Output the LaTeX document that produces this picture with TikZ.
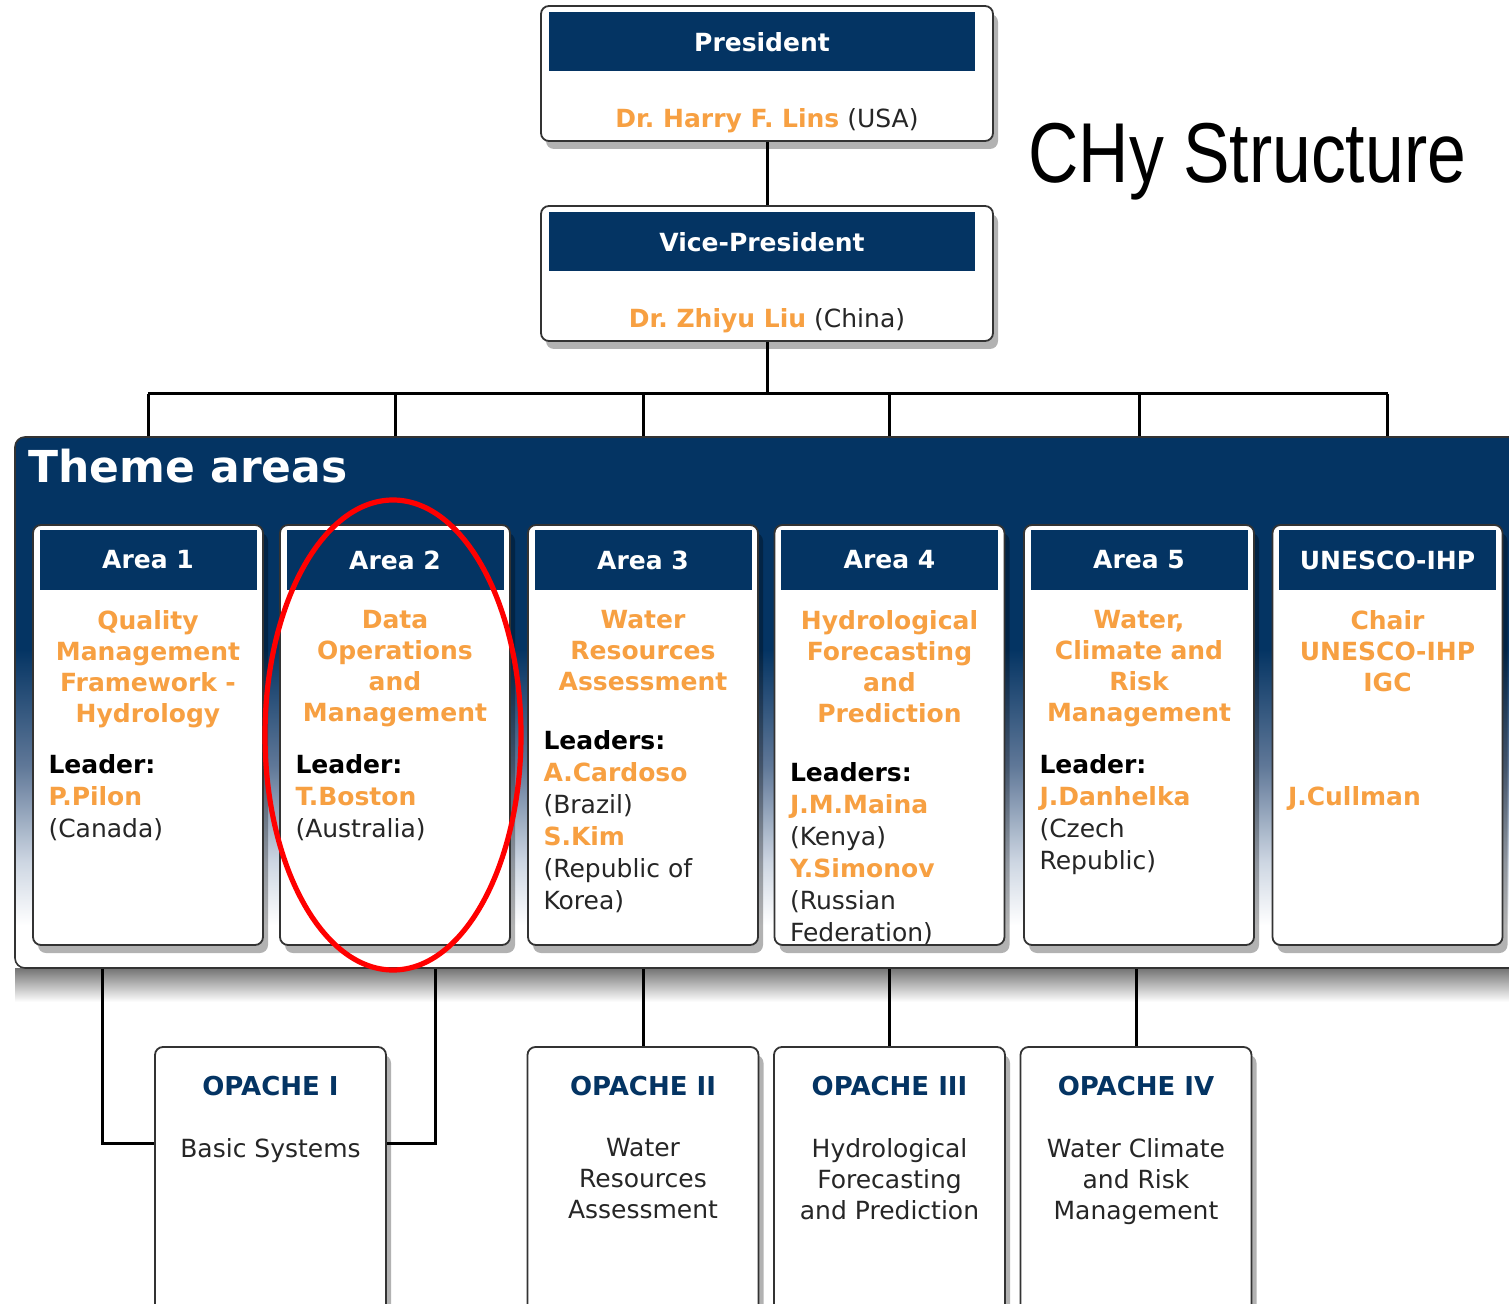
\documentclass[tikz,border=0pt]{standalone}
\usepackage{fontspec}
\setmainfont{DejaVu Sans}
\newfontfamily\narrowfont[FakeStretch=0.82]{Liberation Sans}
\usetikzlibrary{positioning,shadows}
\frenchspacing
\definecolor{chynavy}{RGB}{4,52,99}
\definecolor{chyorange}{RGB}{247,160,66}
\definecolor{chyfade}{RGB}{96,120,152}
\definecolor{chylight}{RGB}{205,214,226}
\pgfdeclareverticalshading{themefade}{100bp}{color(0bp)=(white); color(29bp)=(white); color(35bp)=(chylight); color(44bp)=(chyfade); color(55bp)=(chynavy); color(100bp)=(chynavy)}
\newcommand{\boxfont}{\fontsize{12.5}{15.5}\selectfont}
\newcommand{\leadfont}{\fontsize{12.5}{16}\selectfont}
\newcommand{\chyname}[1]{{\bfseries\color{chyorange}#1}}
\newcommand{\chyrole}[1]{{\bfseries\color{black}#1}}

\begin{document}
\begin{tikzpicture}[x=0.5pt, y=-0.5pt,
    box/.style={draw=black!80, line width=0.9pt, rounded corners=4pt, fill=white, inner sep=0pt,
      drop shadow={shadow xshift=2.5pt, shadow yshift=-4pt, opacity=0.3, fill=black}},
    topbox/.style={box, minimum width=226pt, minimum height=67.5pt},
    areabox/.style={box, minimum width=115pt, minimum height=210pt},
    opbox/.style={box, minimum width=115.5pt, minimum height=150pt},
    bar/.style={fill=chynavy, text=white, inner sep=0pt, font=\boxfont\bfseries},
    topbar/.style={bar, minimum width=213pt, minimum height=29.5pt},
    areabar/.style={bar, minimum width=108.5pt, minimum height=29.5pt},
    person/.style={inner sep=0pt, font=\boxfont, text=black!85},
    areatitle/.style={inner sep=0pt, text width=114pt, align=center, text=chyorange, font=\boxfont\bfseries},
    leaders/.style={inner sep=0pt, align=left, font=\leadfont, text=black!85},
    optitle/.style={inner sep=0pt, text=chynavy, font=\fontsize{13}{16}\selectfont\bfseries},
    opdesc/.style={inner sep=0pt, align=center, text=black!85, font=\boxfont},
    conn/.style={line width=1.5pt, black}]

  \useasboundingbox (0,0) rectangle (1509,1304);
  \clip (0,0) rectangle (1509,1304);

  % president and vice-president
  \node[topbox] (pres) at (767,73.5) {};
  \node[topbar, below=3.5pt of pres.north, xshift=-2.5pt] (presbar) {President};
  \node[person, above=4.5pt of pres.south] (presname) {\chyname{Dr. Harry F. Lins} (USA)};

  \node[topbox] (vp) at (767,273.5) {};
  \node[topbar, below=3.5pt of vp.north, xshift=-2.5pt] (vpbar) {Vice-President};
  \node[person, above=4.5pt of vp.south] (vpname) {\chyname{Dr. Zhiyu Liu} (China)};

  \node[anchor=base west, inner sep=0pt, font=\narrowfont\fontsize{42.5}{50}\selectfont] (title) at (1028,183) {CHy Structure};

  % theme areas panel
  \shade[top color=black!55, bottom color=white] (15,968) rectangle (1509,1002);
  \node[draw=black!80, line width=0.8pt, rounded corners=5pt, shade, shading=themefade,
    minimum width=762.5pt, minimum height=265.5pt, inner sep=0pt] (panel) at (777.5,702.5) {};
  \node[anchor=base west, inner sep=0pt, text=white, font=\fontsize{22}{27}\selectfont\bfseries] (theme) at (28,483) {Theme areas};

  \foreach \n/\x/\h in {a1/148/Area 1, a2/395/Area 2, a3/643/Area 3, a4/889.5/Area 4, a5/1139/Area 5, a6/1387.5/UNESCO-IHP} {
    \node[areabox] (\n) at (\x,735) {};
    \node[areabar, below=3pt of \n.north] (\n bar) {\h};
  }

  \node[areatitle, below=43pt of a1.north] (a1 title) {Quality\\Management\\Framework -\\Hydrology};
  \node[areatitle, below=43pt of a2.north] (a2 title) {Data\\Operations\\and\\Management};
  \node[areatitle, below=43pt of a3.north] (a3 title) {Water\\Resources\\Assessment};
  \node[areatitle, below=43pt of a4.north] (a4 title) {Hydrological\\Forecasting\\and\\Prediction};
  \node[areatitle, below=43pt of a5.north] (a5 title) {Water,\\Climate and\\Risk\\Management};
  \node[areatitle, below=43pt of a6.north] (a6 title) {Chair\\UNESCO-IHP\\IGC};

  \node[leaders, below right=115pt and 8pt of a1.north west] (a1 lead) {\chyrole{Leader:}\\\chyname{P.Pilon}\\(Canada)};
  \node[leaders, below right=115pt and 8pt of a2.north west] (a2 lead) {\chyrole{Leader:}\\\chyname{T.Boston}\\(Australia)};
  \node[leaders, below right=103pt and 8pt of a3.north west] (a3 lead) {\chyrole{Leaders:}\\\chyname{A.Cardoso}\\(Brazil)\\\chyname{S.Kim}\\(Republic of\\Korea)};
  \node[leaders, below right=119pt and 8pt of a4.north west] (a4 lead) {\chyrole{Leaders:}\\\chyname{J.M.Maina}\\(Kenya)\\\chyname{Y.Simonov}\\(Russian\\Federation)};
  \node[leaders, below right=115pt and 8pt of a5.north west] (a5 lead) {\chyrole{Leader:}\\\chyname{J.Danhelka}\\(Czech\\Republic)};
  \node[leaders, below right=131pt and 8pt of a6.north west] (a6 lead) {\chyname{J.Cullman}};

  % opache boxes
  \node[opbox] (op1) at (270.5,1197) {};
  \node[opbox] (op2) at (643,1197) {};
  \node[opbox] (op3) at (889.5,1197) {};
  \node[opbox] (op4) at (1136,1197) {};

  \node[optitle, below=15pt of op1.north] (op1 title) {OPACHE I};
  \node[optitle, below=15pt of op2.north] (op2 title) {OPACHE II};
  \node[optitle, below=15pt of op3.north] (op3 title) {OPACHE III};
  \node[optitle, below=15pt of op4.north] (op4 title) {OPACHE IV};

  \node[opdesc, below=46pt of op1.north] (op1 desc) {Basic Systems};
  \node[opdesc, below=46pt of op2.north] (op2 desc) {Water\\Resources\\Assessment};
  \node[opdesc, below=46pt of op3.north] (op3 desc) {Hydrological\\Forecasting\\and Prediction};
  \node[opdesc, below=46pt of op4.north] (op4 desc) {Water Climate\\and Risk\\Management};

  % connectors
  \coordinate (bus) at (764,394);
  \draw[conn] (pres.south) -- (vp.north);
  \draw[conn] (vp.south) -- (vp.south |- bus);
  \draw[conn] (a1.north |- bus) -- (a6.north |- bus);
  \foreach \n in {a1,a2,a3,a4,a5,a6}
    \draw[conn] (\n.north |- bus) -- (\n.north |- panel.north);

  \coordinate (k1) at (102,1143);
  \coordinate (k2) at (435,1143);
  \draw[conn] (k1 |- panel.south) -- (k1) -- (k1 -| op1.west);
  \draw[conn] (k2 |- panel.south) -- (k2) -- (k2 -| op1.east);
  \foreach \n in {op2,op3,op4}
    \draw[conn] (\n.north |- panel.south) -- (\n.north);

  % highlight
  \draw[red, line width=2.6pt] (393,735) ellipse [x radius=64pt, y radius=117.5pt];
\end{tikzpicture}
\end{document}
